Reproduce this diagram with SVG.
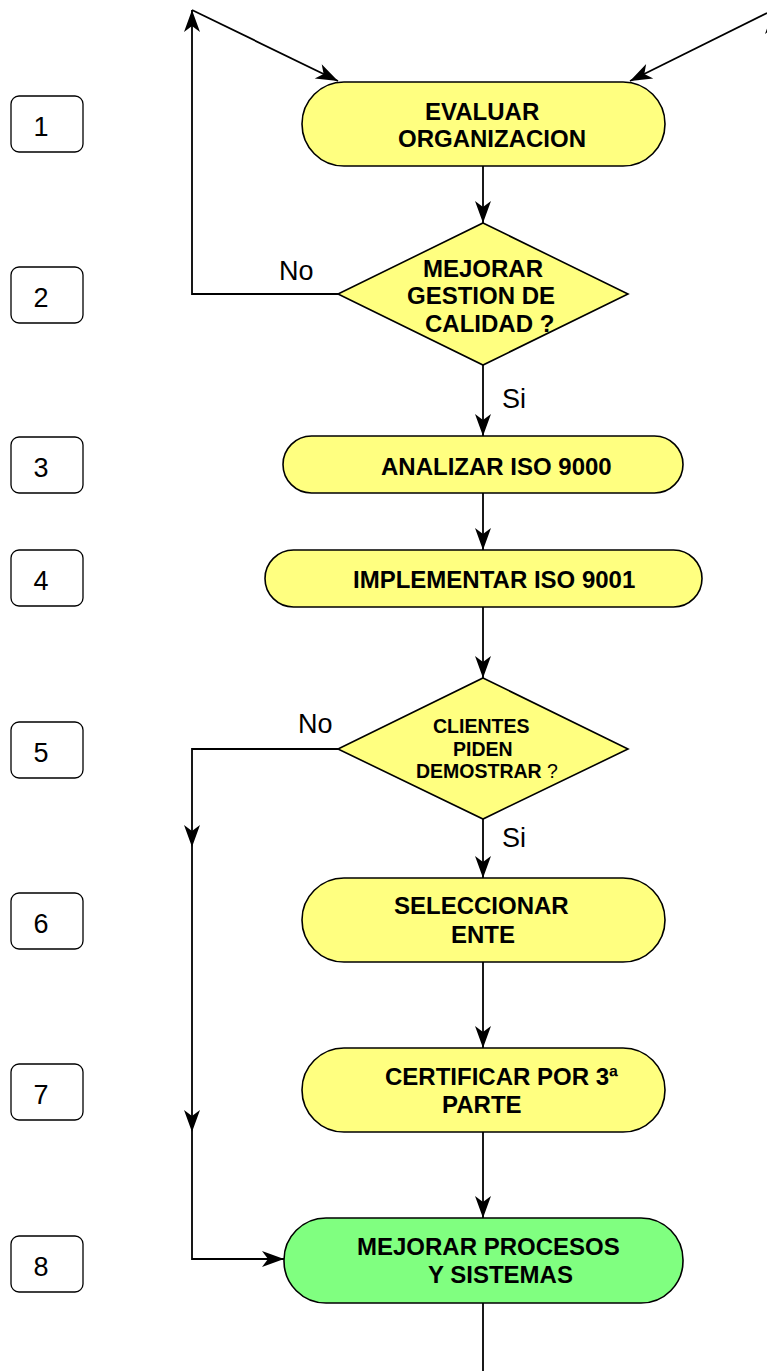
<svg xmlns="http://www.w3.org/2000/svg" width="767" height="1371" viewBox="0 0 767 1371">
<style>
.num{fill:#fff;stroke:#000;stroke-width:1.3}
.nt{font-family:"Liberation Sans",Arial,sans-serif;font-size:27px;fill:#000;text-anchor:middle}
.lbl{font-family:"Liberation Sans",Arial,sans-serif;font-size:27px;fill:#000}
.y{fill:#FFFF80;stroke:#000;stroke-width:1.6}
.g{fill:#80FF80;stroke:#000;stroke-width:1.6}
.t{font-family:"Liberation Sans",Arial,sans-serif;font-size:24px;font-weight:bold;fill:#000}
.ts{font-family:"Liberation Sans",Arial,sans-serif;font-size:19.5px;font-weight:bold;fill:#000}
.c{fill:none;stroke:#000;stroke-width:1.8}
</style>
<defs>
<marker id="ah" viewBox="-23 -9 24 18" refX="0" refY="0" markerWidth="24" markerHeight="18" markerUnits="userSpaceOnUse" orient="auto">
<path d="M0,0 L-22,-8 L-16,0 L-22,8 Z" fill="#000"/>
</marker>
</defs>
<g id="connectors">
<path class="c" d="M483,166 L483,223" marker-end="url(#ah)"/>
<path class="c" d="M338,294 L192,294 L192,10" marker-end="url(#ah)"/>
<path class="c" d="M192,10 L338,81" marker-end="url(#ah)"/>
<path class="c" d="M767,13 L630,81" marker-end="url(#ah)"/>
<path class="c" d="M773,300 L773,12" marker-end="url(#ah)"/>
<path class="c" d="M483,365 L483,436" marker-end="url(#ah)"/>
<path class="c" d="M483,493 L483,550" marker-end="url(#ah)"/>
<path class="c" d="M483,607 L483,678" marker-end="url(#ah)"/>
<path class="c" d="M338,749 L192,749 L192,847" marker-end="url(#ah)"/>
<path class="c" d="M192,847 L192,1132" marker-end="url(#ah)"/>
<path class="c" d="M192,1132 L192,1259 L284,1259" marker-end="url(#ah)"/>
<path class="c" d="M483,819 L483,878" marker-end="url(#ah)"/>
<path class="c" d="M483,962 L483,1048" marker-end="url(#ah)"/>
<path class="c" d="M483,1132 L483,1218" marker-end="url(#ah)"/>
<path class="c" d="M483,1303 L483,1371"/>
<text class="lbl" x="279" y="280">No</text>
<text class="lbl" x="502" y="408">Si</text>
<text class="lbl" x="298" y="733">No</text>
<text class="lbl" x="502" y="847">Si</text>
</g>
<g id="n1"><rect class="num" x="11" y="96" width="72" height="56" rx="8"/><text class="nt" x="41" y="136">1</text></g>
<g id="n2"><rect class="num" x="11" y="267" width="72" height="56" rx="8"/><text class="nt" x="41" y="307">2</text></g>
<g id="n3"><rect class="num" x="11" y="437" width="72" height="56" rx="8"/><text class="nt" x="41" y="477">3</text></g>
<g id="n4"><rect class="num" x="11" y="550" width="72" height="56" rx="8"/><text class="nt" x="41" y="590">4</text></g>
<g id="n5"><rect class="num" x="11" y="722" width="72" height="56" rx="8"/><text class="nt" x="41" y="762">5</text></g>
<g id="n6"><rect class="num" x="11" y="893" width="72" height="56" rx="8"/><text class="nt" x="41" y="933">6</text></g>
<g id="n7"><rect class="num" x="11" y="1064" width="72" height="56" rx="8"/><text class="nt" x="41" y="1104">7</text></g>
<g id="n8"><rect class="num" x="11" y="1236" width="72" height="56" rx="8"/><text class="nt" x="41" y="1276">8</text></g>
<g id="evaluar"><rect class="y" x="302" y="82" width="363" height="84" rx="42"/>
<text class="t" x="425" y="120">EVALUAR</text><text class="t" x="398" y="147">ORGANIZACION</text></g>
<g id="decision1"><polygon class="y" points="483,223 628,294 483,365 338,294"/>
<text class="t" x="423" y="277">MEJORAR</text><text class="t" x="407" y="304">GESTION DE</text><text class="t" x="425" y="332">CALIDAD ?</text></g>
<g id="analizar"><rect class="y" x="283" y="436" width="400" height="57" rx="28.5"/>
<text class="t" x="381" y="475">ANALIZAR ISO 9000</text></g>
<g id="implementar"><rect class="y" x="265" y="550" width="437" height="57" rx="28.5"/>
<text class="t" x="353" y="588">IMPLEMENTAR ISO 9001</text></g>
<g id="decision2"><polygon class="y" points="483,678 628,749 483,819 338,749"/>
<text class="ts" x="433" y="733">CLIENTES</text><text class="ts" x="453" y="756">PIDEN</text><text class="ts" x="416" y="778">DEMOSTRAR<tspan font-weight="normal"> ?</tspan></text></g>
<g id="seleccionar"><rect class="y" x="302" y="878" width="363" height="84" rx="42"/>
<text class="t" x="394" y="914">SELECCIONAR</text><text class="t" x="451" y="943">ENTE</text></g>
<g id="certificar"><rect class="y" x="302" y="1048" width="363" height="84" rx="42"/>
<text class="t" x="385" y="1085">CERTIFICAR POR 3ª</text><text class="t" x="442" y="1113">PARTE</text></g>
<g id="mejorar"><rect class="g" x="284" y="1218" width="399" height="85" rx="42"/>
<text class="t" x="357" y="1255">MEJORAR PROCESOS</text><text class="t" x="428" y="1283">Y SISTEMAS</text></g>
</svg>
